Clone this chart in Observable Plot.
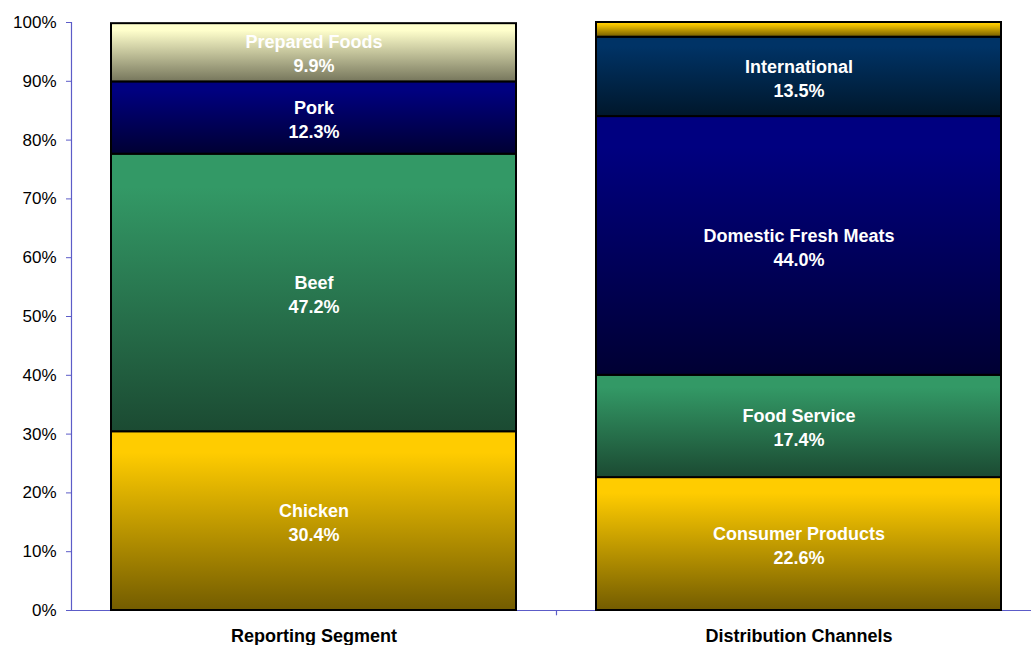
<!DOCTYPE html>
<html>
<head>
<meta charset="utf-8">
<script src="https://cdn.jsdelivr.net/npm/d3@7"></script>
<script src="https://cdn.jsdelivr.net/npm/@observablehq/plot@0.6"></script>
<style>
  html, body { margin: 0; padding: 0; background: #fff; }
  #chart svg { display: block; font-family: Arial, "Liberation Sans", sans-serif; }
</style>
</head>
<body>
<div id="chart"></div>
<script>
// ---- data ----
const categories = ["Reporting Segment", "Distribution Channels"];
const segmentCategory = [
  "Reporting Segment", "Reporting Segment", "Reporting Segment", "Reporting Segment",
  "Distribution Channels", "Distribution Channels", "Distribution Channels", "Distribution Channels", "Distribution Channels"
];
const segmentNames = [
  "Chicken", "Beef", "Pork", "Prepared Foods",
  "Consumer Products", "Food Service", "Domestic Fresh Meats", "International", "Other"
];
const segmentValues = [0.304, 0.472, 0.123, 0.099, 0.226, 0.174, 0.440, 0.135, 0.025];
const segmentShade = ["gold", "green", "navy", "cream", "gold", "green", "navy", "intl", "gold"];
const yTicks = [0, 0.1, 0.2, 0.3, 0.4, 0.5, 0.6, 0.7, 0.8, 0.9, 1.0];

// gradient palette (top colour, bottom colour)
const gradients = {
  gold: ["#FFCC00", "#735C00"],
  green: ["#339966", "#1B4A32"],
  navy: ["#000080", "#000033"],
  cream: ["#FFFFCC", "#76765C"],
  intl: ["#003366", "#00172B"]
};

const rows = segmentNames.map((name, i) => ({
  category: segmentCategory[i],
  name,
  value: segmentValues[i],
  fill: `url(#grad-${segmentShade[i]})`,
  label: segmentValues[i] >= 0.05 ? `${name}\n${d3.format(".1%")(segmentValues[i])}` : null
}));

const axisColor = "#5c5cc8";
const fmt = d3.format(".0%");
const step = 485, bandwidth = 405;

const svg = Plot.plot({
  width: 1031,
  height: 645,
  marginTop: 22,
  marginBottom: 35,
  marginLeft: 71,
  marginRight: 0,
  style: { fontFamily: "Arial, 'Liberation Sans', sans-serif", fontSize: "17px", color: "#000" },
  x: { domain: categories, range: [71, 1041], paddingInner: 0.165, paddingOuter: 0.0825, label: null },
  y: { domain: [0, 1], label: null },
  color: { type: "identity" },
  marks: [
    Plot.ruleY([0], { stroke: axisColor, strokeWidth: 1.2 }),
    Plot.barY(rows, Plot.stackY({
      x: "category", y: "value", fill: "fill", order: null,
      stroke: "#000", strokeWidth: 2
    })),
    Plot.text(rows, Plot.stackY({
      x: "category", y: "value", text: "label", order: null,
      fill: "white", fontWeight: "bold", fontSize: 18, lineHeight: 1.33
    })),
    Plot.ruleX(categories.slice(0, 1), {
      x: d => d, dx: -(bandwidth / 2 + 0.0825 * step), y1: 0, y2: 1, stroke: axisColor, strokeWidth: 1.2
    }),
    Plot.axisY({
      ticks: yTicks, tickFormat: fmt, tickSize: 5, tickPadding: 10,
      stroke: axisColor, fill: "#000", fontSize: 17, label: null
    }),
    Plot.ruleX(categories.slice(1), {
      x: d => d, dx: -(bandwidth / 2 + 0.0825 * step), y1: 0, y2: -0.009, stroke: axisColor, strokeWidth: 1.2
    }),
    Plot.axisX({
      tickSize: 0, tickPadding: 19, fill: "#000", fontSize: 18, fontWeight: "bold", label: null
    })
  ]
});

// gradient definitions
const defs = d3.select(svg).insert("defs", ":first-child");
for (const [key, [top, bottom]] of Object.entries(gradients)) {
  const g = defs.append("linearGradient")
    .attr("id", `grad-${key}`)
    .attr("x1", 0).attr("y1", 0).attr("x2", 0).attr("y2", 1);
  g.append("stop").attr("offset", "0%").attr("stop-color", top);
  g.append("stop").attr("offset", "12%").attr("stop-color", top);
  g.append("stop").attr("offset", "100%").attr("stop-color", bottom);
}

document.getElementById("chart").appendChild(svg);
</script>
</body>
</html>
